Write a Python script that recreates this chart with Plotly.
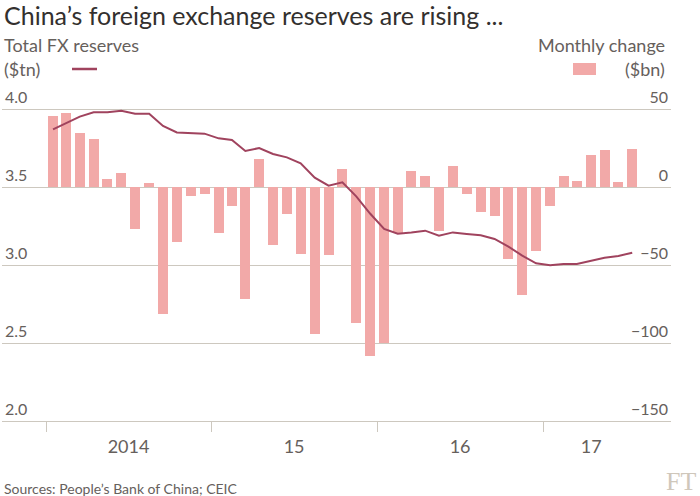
import plotly.graph_objects as go

# ---- data ----
months = [f"{y}-{m:02d}-01" for y in (2014, 2015, 2016) for m in range(1, 13)] + \
         [f"2017-{m:02d}-01" for m in range(1, 8)]

reserves_tn = [3.870, 3.908, 3.951, 3.979, 3.979, 3.989, 3.970, 3.970, 3.891, 3.850, 3.848, 3.842,
               3.812, 3.801, 3.731, 3.750, 3.712, 3.690, 3.652, 3.560, 3.509, 3.530, 3.440, 3.330,
               3.231, 3.201, 3.209, 3.220, 3.188, 3.209, 3.199, 3.190, 3.167, 3.118, 3.060, 3.011,
               2.998, 3.006, 3.006, 3.026, 3.047, 3.058, 3.079]

change_bn = [45.5, 47.2, 34.4, 30.6, 5.1, 9.2, -27.1, 2.4, -81.4, -35.0, -5.8, -4.5,
             -29.7, -12.2, -71.8, 17.9, -37.2, -17.5, -42.7, -94.2, -43.4, 11.3, -87.4, -108.3,
             -100.2, -29.7, 10.3, 7.1, -28.2, 13.2, -4.3, -16.2, -18.8, -45.9, -69.2, -41.2,
             -12.4, 6.8, 3.8, 20.3, 23.9, 3.2, 24.1]

left_ticks = [2.0, 2.5, 3.0, 3.5, 4.0]
right_ticks = [-150, -100, -50, 0, 50]
year_labels = ["2014", "15", "16", "17"]
year_label_pos = ["2014-07-02", "2015-07-02", "2016-07-02", "2017-04-17"]
boundary_ticks = ["2014-01-01", "2015-01-01", "2016-01-01", "2017-01-01", "2017-08-01"]

# ---- style ----
BAR = "#f2a9a8"
LINE = "#a0435e"
GRID = "#cdc8bf"
TXT = "#66605c"
TITLE = "#33302e"
FONT = "Lato"

W, H = 700, 496
PL, PR, PT, PB = 2, 671, 84, 421   # plot area in pixels
TOPGRID = 109                       # pixel row of the top gridline (4.0 / 50)

# extend the axis ranges above the top gridline so the inside labels fit
ext = (TOPGRID - PT) / (PB - TOPGRID)
l_lo, l_hi = left_ticks[0], left_ticks[-1]
r_lo, r_hi = right_ticks[0], right_ticks[-1]
left_range = [l_lo, l_hi + (l_hi - l_lo) * ext]
right_range = [r_lo, r_hi + (r_hi - r_lo) * ext]

fig = go.Figure()
fig.add_trace(go.Bar(
    x=months, y=change_bn, xperiod="M1", xperiodalignment="middle",
    marker=dict(color=BAR, line=dict(width=0)), width=22 * 86400000,
    yaxis="y", showlegend=False, hoverinfo="skip"))
fig.add_trace(go.Scatter(
    x=months, y=reserves_tn, xperiod="M1", xperiodalignment="middle",
    mode="lines", line=dict(color=LINE, width=2), yaxis="y2",
    showlegend=False, hoverinfo="skip"))


def px(x):
    return (x - PL) / (PR - PL)


def py(y):
    return (PB - y) / (PB - PT)


fig.update_layout(
    width=W, height=H,
    margin=dict(l=PL, r=W - PR, t=PT, b=H - PB, pad=0),
    paper_bgcolor="white", plot_bgcolor="white",
    font=dict(family=FONT, color=TXT),
    bargap=0,
    xaxis=dict(
        type="date", range=["2013-09-26", "2017-10-10"],
        tickmode="array", tickvals=year_label_pos, ticktext=year_labels,
        ticks="", showgrid=False, zeroline=False,
        showline=True, linecolor=GRID, linewidth=1,
        tickfont=dict(size=18, color=TXT),
        ticklabelstandoff=9,
        minor=dict(tickmode="array", tickvals=boundary_ticks, ticks="outside",
                   ticklen=10, tickcolor=GRID, tickwidth=1, showgrid=False),
    ),
    yaxis=dict(
        range=right_range, tickvals=right_ticks, side="right",
        ticklabelposition="inside top", showgrid=True, gridcolor=GRID, gridwidth=1,
        zeroline=False, ticks="", tickfont=dict(size=16, color=TXT),
    ),
    yaxis2=dict(
        range=left_range, tickvals=left_ticks, tickformat=".1f",
        overlaying="y", side="left", ticklabelposition="inside top",
        showgrid=False, zeroline=False, ticks="", tickfont=dict(size=16, color=TXT),
    ),
)

ann = [
    dict(text="China’s foreign exchange reserves are rising ...", x=px(2), y=py(15),
         xanchor="left", font=dict(size=25, color=TITLE)),
    dict(text="Total FX reserves", x=px(2), y=py(45), xanchor="left", font=dict(size=18)),
    dict(text="($tn)", x=px(2), y=py(69), xanchor="left", font=dict(size=18)),
    dict(text="Monthly change", x=px(667), y=py(45), xanchor="right", font=dict(size=18)),
    dict(text="($bn)", x=px(667), y=py(69), xanchor="right", font=dict(size=18)),
    dict(text="Sources: People’s Bank of China; CEIC", x=px(2), y=py(488), xanchor="left",
         font=dict(size=14)),
    dict(text="FT", x=px(698), y=py(481), xanchor="right",
         font=dict(size=26, color="#cfc7bb", family="Liberation Serif")),
]
for a in ann:
    a.update(xref="paper", yref="paper", yanchor="middle", showarrow=False)
fig.update_layout(annotations=ann)

fig.add_shape(type="line", xref="paper", yref="paper", x0=px(72), x1=px(97), y0=py(69), y1=py(69),
              line=dict(color=LINE, width=2.5))
fig.add_shape(type="rect", xref="paper", yref="paper", x0=px(573), x1=px(596), y0=py(63), y1=py(75),
              line=dict(width=0), fillcolor=BAR)

fig.write_html("out.html", config={"displayModeBar": False, "staticPlot": True},
               post_script="document.body.style.margin='0';")
